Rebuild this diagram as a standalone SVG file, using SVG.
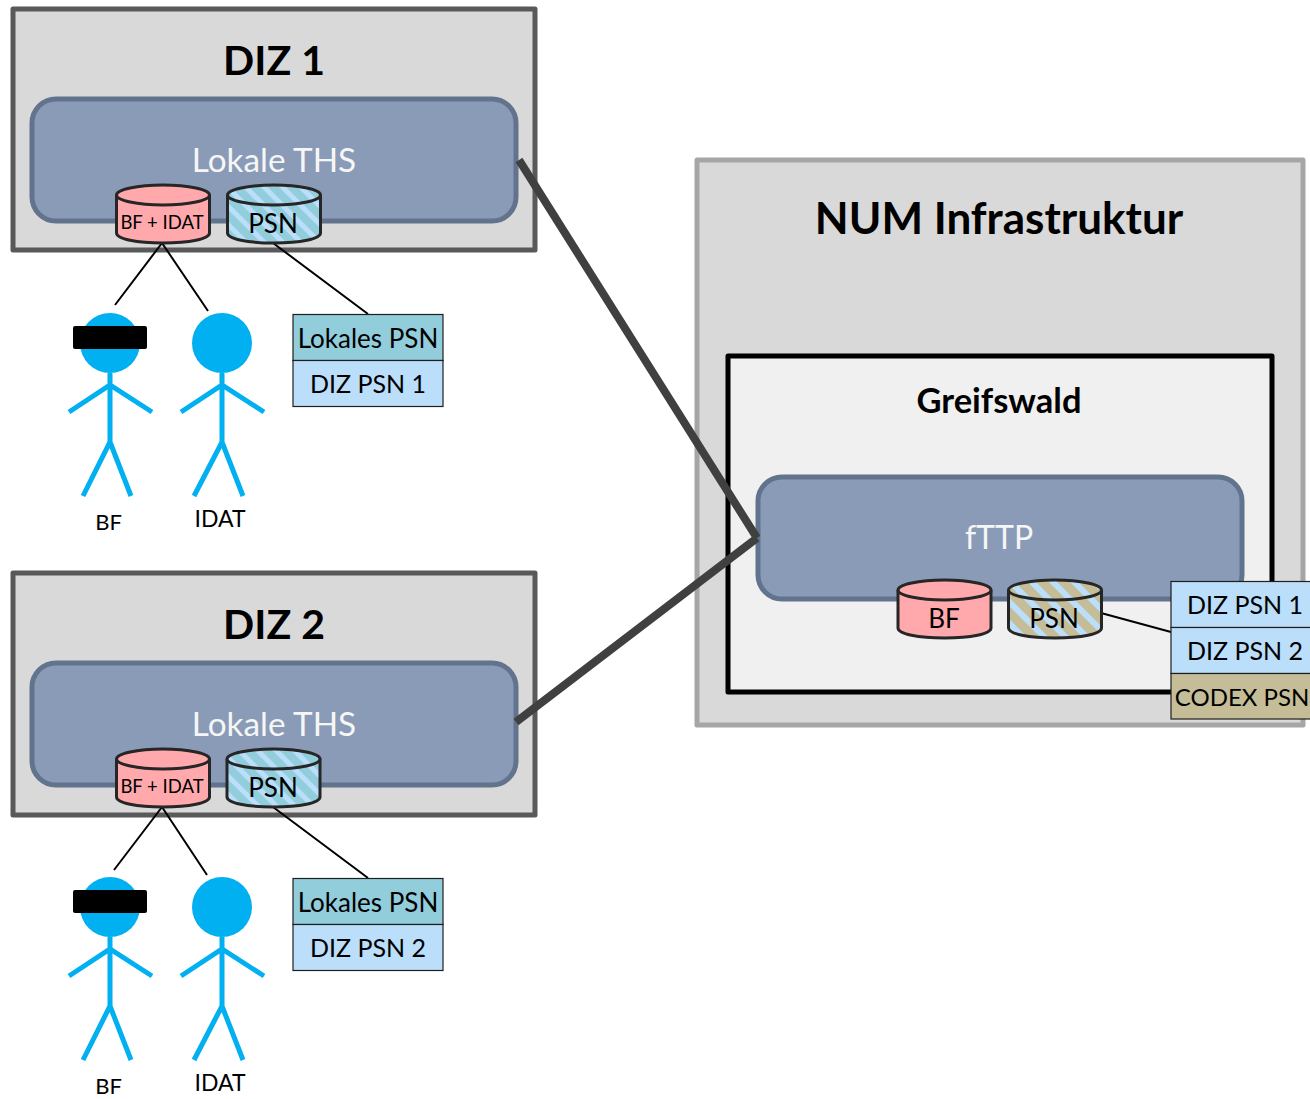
<svg xmlns="http://www.w3.org/2000/svg" width="1310" height="1099" viewBox="0 0 1310 1099">
<style>
text{font-family:"Lato","Carlito","Liberation Sans",sans-serif;text-anchor:middle;fill:#000}
.diz{fill:#d9d9d9;stroke:#595959;stroke-width:5;stroke-linejoin:round}
.ths{fill:#8a9bb8;stroke:#62738d;stroke-width:5}
.ttl{font-weight:700;font-size:41px}
.wh{fill:#f6f6f6;font-size:33.300px}
.cyl{stroke:#262626;stroke-width:3}
.pink{fill:#ffa9ad}
.p1{fill:url(#hb)}
.p2{fill:url(#hc)}
.t{font-size:26px}
.d{font-size:25px}
.bi{font-size:18.500px}
.lb{font-size:22px}
.cell{stroke:#1f1f1f;stroke-width:1.2}
.blue{fill:#bbdefb}
.teal{fill:#92cddc}
.tan{fill:#c4bd97}
.fig{stroke:#00b0f0;stroke-width:5;fill:none}
.thin{stroke:#000;stroke-width:2;fill:none}
.thick{stroke:#404040;stroke-width:8;fill:none}
</style>
<defs>
<pattern id="hb" width="13" height="13" patternUnits="userSpaceOnUse" patternTransform="rotate(-45)"><rect width="13" height="13" fill="#92cddc"/><rect width="5" height="13" fill="#bbdefb"/></pattern>
<pattern id="hc" width="15" height="15" patternUnits="userSpaceOnUse" patternTransform="rotate(-45)"><rect width="15" height="15" fill="#c4bd97"/><rect width="6" height="15" fill="#bbdefb"/></pattern>
</defs>
<g id="num"><rect x="697" y="160" width="606" height="565" fill="#d9d9d9" stroke="#a6a6a6" stroke-width="5" stroke-linejoin="round"/><text x="999" y="234" class="ttl" style="font-size:44px">NUM Infrastruktur</text></g>
<g id="greifswald"><rect x="728" y="356" width="544" height="336" fill="#f0f0f0" stroke="#000" stroke-width="5" stroke-linejoin="round"/><text x="999" y="413" style="font-size:34.500px;font-weight:700">Greifswald</text></g>
<g id="fttp"><rect x="758" y="477" width="484" height="122" rx="24" class="ths"/><text x="999" y="549" class="wh" style="font-size:32px">fTTP</text></g>

<g id="diz1"><rect x="13" y="9" width="522" height="241" class="diz"/><text x="274" y="75" class="ttl">DIZ 1</text></g>
<g id="ths1"><rect x="32" y="99" width="484" height="122" rx="24" class="ths"/><text x="274" y="172" class="wh">Lokale THS</text></g>
<g id="diz2"><rect x="13" y="573" width="522" height="242" class="diz"/><text x="274" y="639" class="ttl">DIZ 2</text></g>
<g id="ths2"><rect x="32" y="663" width="484" height="122" rx="24" class="ths"/><text x="274" y="736" class="wh">Lokale THS</text></g>

<g id="connectors">
<path class="thick" d="M519,160L757,538M516,722L757,538"/>
<path class="thin" d="M162,243L115,305M162,243L208,311M273,243L368,314M162,807L114,870M162,807L207,875M273,807L368,878M1101,613L1171,632"/>
</g>

<g id="cyl-bfidat-1"><path class="cyl pink" d="M116.500,195V233C116.500,239 137,243 163,243S209.500,239 209.500,233V195"/><ellipse class="cyl pink" cx="163" cy="195" rx="46.500" ry="10"/><text x="162" y="229" class="bi">BF + IDAT</text></g>
<g id="cyl-psn-1"><path class="cyl p1" d="M227.500,195V233C227.500,239 248,243 274,243S320.500,239 320.500,233V195"/><ellipse class="cyl p1" cx="274" cy="195" rx="46.500" ry="10"/><text x="273" y="233" class="t">PSN</text></g>
<g id="cyl-bfidat-2"><path class="cyl pink" d="M116.500,759V797C116.500,803 137,807 163,807S209.500,803 209.500,797V759"/><ellipse class="cyl pink" cx="163" cy="759" rx="46.500" ry="10"/><text x="162" y="793" class="bi">BF + IDAT</text></g>
<g id="cyl-psn-2"><path class="cyl p1" d="M227,759V797C227,803 247.500,807 273.500,807S320,803 320,797V759"/><ellipse class="cyl p1" cx="273.500" cy="759" rx="46.500" ry="10"/><text x="273" y="797" class="t">PSN</text></g>
<g id="cyl-bf-c"><path class="cyl pink" d="M898,590V628C898,634 918.500,638 944.500,638S991,634 991,628V590"/><ellipse class="cyl pink" cx="944.500" cy="590" rx="46.500" ry="10"/><text x="944" y="628" class="t">BF</text></g>
<g id="cyl-psn-c"><path class="cyl p2" d="M1008.500,590V628C1008.500,634 1029,638 1055,638S1101.500,634 1101.500,628V590"/><ellipse class="cyl p2" cx="1055" cy="590" rx="46.500" ry="10"/><text x="1054" y="628" class="t">PSN</text></g>

<g id="person-bf-1"><circle cx="110" cy="343" r="30" fill="#00b0f0"/><path class="fig" d="M110,373V442M69,412L110,385L152,412M83,496L110,442L131,496"/><rect x="73" y="326" width="74" height="23" rx="2" fill="#000"/><text x="108.500" y="530" class="lb">BF</text></g>
<g id="person-idat-1"><circle cx="222" cy="343" r="30" fill="#00b0f0"/><path class="fig" d="M222,373V442M181,412L222,385L264,412M194,496L222,442L243,496"/><text x="220" y="527" class="lb" style="font-size:23px">IDAT</text></g>
<g id="person-bf-2"><circle cx="110" cy="907" r="30" fill="#00b0f0"/><path class="fig" d="M110,937V1006M69,976L110,949L152,976M83,1060L110,1006L131,1060"/><rect x="73" y="890" width="74" height="23" rx="2" fill="#000"/><text x="108.500" y="1094" class="lb">BF</text></g>
<g id="person-idat-2"><circle cx="222" cy="907" r="30" fill="#00b0f0"/><path class="fig" d="M222,937V1006M181,976L222,949L264,976M194,1060L222,1006L243,1060"/><text x="220" y="1091" class="lb" style="font-size:23px">IDAT</text></g>

<g id="table-1"><rect x="293" y="314.500" width="150" height="46" class="cell teal"/><rect x="293" y="360.500" width="150" height="46" class="cell blue"/><text x="368" y="348" class="t">Lokales PSN</text><text x="368" y="393" class="d">DIZ PSN 1</text></g>
<g id="table-2"><rect x="293" y="878.500" width="150" height="46" class="cell teal"/><rect x="293" y="924.500" width="150" height="46" class="cell blue"/><text x="368" y="912" class="t">Lokales PSN</text><text x="368" y="957" class="d">DIZ PSN 2</text></g>
<g id="table-c"><rect x="1171" y="581.500" width="150" height="46" class="cell blue"/><rect x="1171" y="627.500" width="150" height="46" class="cell blue"/><rect x="1171" y="673.500" width="150" height="45.500" class="cell tan"/><text x="1245" y="613.500" class="d">DIZ PSN 1</text><text x="1245" y="659.500" class="d">DIZ PSN 2</text><text x="1242" y="706" style="font-size:24px">CODEX PSN</text></g>
</svg>
